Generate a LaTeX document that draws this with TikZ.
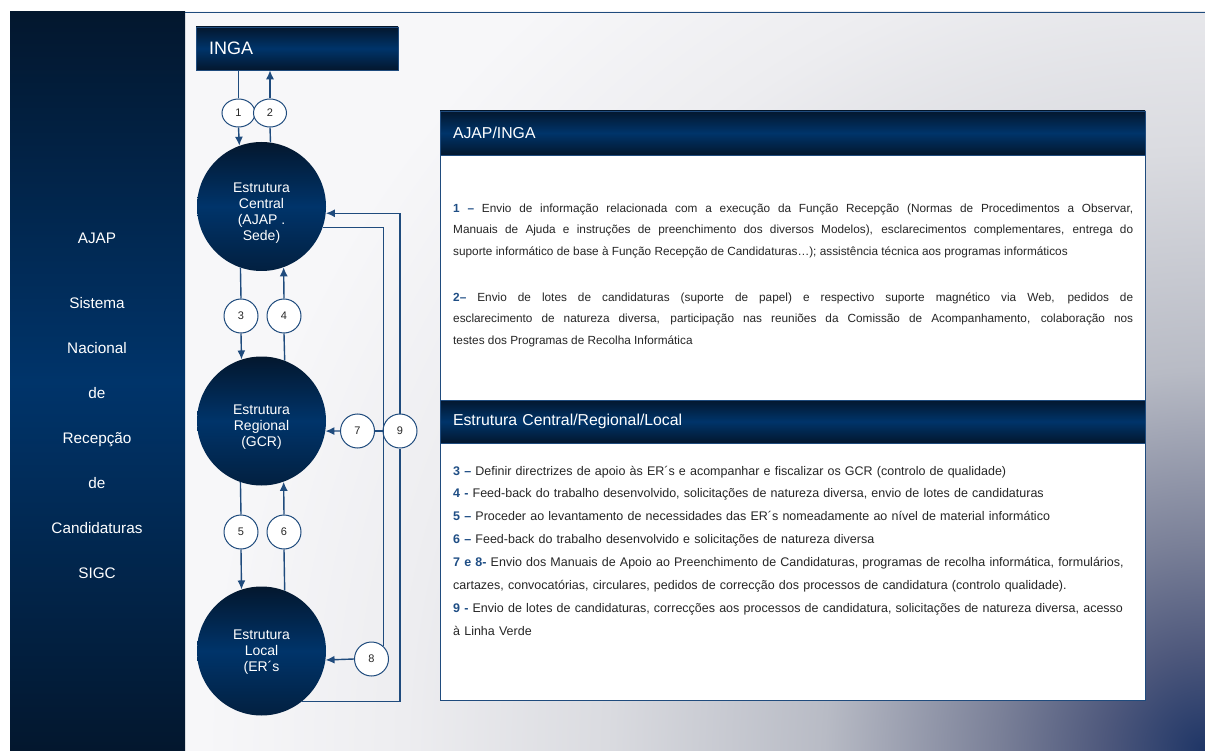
\documentclass[tikz,border=0pt]{standalone}
\usepackage{fontspec}
\setmainfont{Liberation Sans}
\usetikzlibrary{arrows.meta,shapes.geometric}

\definecolor{navydark}{HTML}{03172E}
\definecolor{navymid}{HTML}{00346A}
\definecolor{linkblue}{HTML}{1F4B7D}
\definecolor{numblue}{HTML}{1F4E85}
\definecolor{inktext}{HTML}{262626}
\definecolor{glowa}{HTML}{1E3566}
\definecolor{glowb}{HTML}{4E587C}
\definecolor{glowc}{HTML}{7A8098}
\definecolor{glowd}{HTML}{B8BBC5}
\definecolor{glowe}{HTML}{DADBE0}
\definecolor{glowf}{HTML}{EDEDF0}
\definecolor{glowg}{HTML}{F7F7F9}

\pgfdeclareradialshading{bgglow}{\pgfpoint{0bp}{0bp}}{color(0bp)=(glowa); color(1.8bp)=(glowb); color(3.7bp)=(glowc); color(6.8bp)=(glowd); color(10.7bp)=(glowe); color(14.3bp)=(glowf); color(17.9bp)=(glowg); color(50bp)=(glowg)}

\newcommand{\itemno}[1]{\textcolor{numblue}{\textbf{#1}}}

\begin{document}
\begin{tikzpicture}[x=1pt,y=-1pt,
    bigcirc/.style={circle,minimum size=129pt,inner sep=0pt,
        top color=navydark,bottom color=navydark!70!navymid,middle color=navymid},
    circtext/.style={text=white,align=center,font=\fontsize{14}{16}\selectfont},
    numcirc/.style={circle,draw=linkblue,line width=1pt,fill=white,minimum size=34pt,
        inner sep=0pt,text=inktext,font=\fontsize{11}{12}\selectfont},
    numoval/.style={numcirc,ellipse,minimum width=33pt,minimum height=28pt},
    darkbar/.style={rectangle,top color=navydark,bottom color=navydark,middle color=navymid,
        draw=linkblue,line width=0.6pt,inner xsep=13pt,align=left,text=white},
    sidetext/.style={anchor=base,text=white,font=\fontsize{15.3}{18}\selectfont},
    bodytext/.style={anchor=base west,inner sep=0pt,text width=680pt,text=inktext},
    link/.style={draw=linkblue,line width=1.4pt,-{Latex[length=9pt,width=8pt]}},
    wire/.style={draw=linkblue,line width=1.4pt}]

    % Draw background and side panel
    \useasboundingbox (0,0) rectangle (1205,751);
    \begin{scope}
        \clip (185,12) rectangle (1205,751);
        \shade[shading=bgglow] (1205,751) circle (1400);
    \end{scope}
    \shade[top color=navydark,bottom color=navydark,middle color=navymid] (10,12) rectangle (185,751);
    \draw[linkblue,line width=0.8pt] (185,12.5) -- (1205,12.5);

    \foreach \word/\ypos [count=\i] in {AJAP/243.5,Sistema/308.5,Nacional/353.5,de/398.5,Recepção/443.5,de/488.5,Candidaturas/533.5,SIGC/578.5}
        \node[sidetext] (side\i) at (97,\ypos) {\word};

    % Draw INGA and the three structures
    \node[darkbar,text width=176pt,minimum height=43pt,font=\fontsize{18}{20}\selectfont] (inga) at (297,48.5) {INGA};
    \node[bigcirc] (central) at (261.5,206.5) {};
    \node[bigcirc] (regional) at (261.5,421) {};
    \node[bigcirc] (local) at (261.5,651) {};
    \node[circtext] (centraltext) at (261.5,213) {Estrutura\\Central\\(AJAP .\\Sede)};
    \node[circtext] (regionaltext) at (261.5,427) {Estrutura\\Regional\\(GCR)};
    \node[circtext] (localtext) at (261.5,652) {Estrutura\\Local\\(ER´s};

    % Draw number marks
    \node[numoval] (n1) at (238.5,113) {1};
    \node[numoval] (n2) at (270,113) {2};
    \node[numcirc] (n3) at (241,316) {3};
    \node[numcirc] (n4) at (284,316) {4};
    \node[numcirc] (n5) at (241,532) {5};
    \node[numcirc] (n6) at (284,532) {6};
    \node[numcirc] (n7) at (357.5,431) {7};
    \node[numcirc] (n8) at (371.5,659) {8};
    \node[numcirc] (n9) at (400,431) {9};

    % Links between INGA and central
    \draw[wire] (inga.south -| n1) -- (n1.north);
    \draw[link] (n1.south) -- (central.110.89);
    \draw[wire] (central.82.43) -- (n2.south);
    \draw[link] (n2.north) -- (inga.south -| n2);

    % Links between central, regional and local
    \draw[wire] (central.251.47) -- (n3.north);
    \draw[link] (n3.south) -- (regional.108.53);
    \draw[wire] (regional.69.59) -- (n4.south);
    \draw[link] (n4.north) -- (central.290.41);
    \draw[wire] (regional.251.47) -- (n5.north);
    \draw[link] (n5.south) -- (local.108.53);
    \draw[wire] (local.69.59) -- (n6.south);
    \draw[link] (n6.north) -- (regional.290.41);

    % Links along the right side
    \draw[wire] (central.341) -| (n8.48);
    \draw[wire] (n7.east) -- (n7 -| n8.48);
    \draw[link] (n7.west) -- (regional.351.08);
    \draw[link] (n8.west) -- (local.352.88);
    \draw[wire] (local.309.2) -| (n9.south);
    \draw[link] (n9.north) |- (central.354.7);

    % Draw the text panel
    \draw[linkblue,line width=0.8pt,fill=white] (440,111) rectangle (1145,700);
    \node[darkbar,text width=679pt,minimum height=44pt,font=\fontsize{15.8}{18}\selectfont] (hdinga) at (792.5,133) {AJAP/INGA};
    \node[darkbar,text width=679pt,minimum height=43pt,font=\fontsize{15.8}{18}\selectfont] (hdlocal) at (792.5,421.5) {Estrutura Central/Regional/Local};

    \node[bodytext,align=justify,font=\fontsize{11.8}{21.5}\selectfont] (txtinga) at (453,212.5)
        {\itemno{1 –} Envio de informação relacionada com a execução da Função Recepção (Normas de Procedimentos a Observar,\linebreak
        Manuais de Ajuda e instruções de preenchimento dos diversos Modelos), esclarecimentos complementares, entrega do\linebreak
        suporte informático de base à Função Recepção de Candidaturas…); assistência técnica aos programas informáticos\par\vspace{24.5pt}
        \itemno{2–} Envio de lotes de candidaturas (suporte de papel) e respectivo suporte magnético via Web, pedidos de\linebreak
        esclarecimento de natureza diversa, participação nas reuniões da Comissão de Acompanhamento, colaboração nos\linebreak
        testes dos Programas de Recolha Informática};
    \node[bodytext,text width=695pt,align=left,font=\fontsize{12.5}{22.9}\selectfont] (txtlocal) at (453,475)
        {\itemno{3 –} Definir directrizes de apoio às ER´s e acompanhar e fiscalizar os GCR (controlo de qualidade)\\
        \itemno{4 -} Feed-back do trabalho desenvolvido, solicitações de natureza diversa, envio de lotes de candidaturas\\
        \itemno{5 –} Proceder ao levantamento de necessidades das ER´s nomeadamente ao nível de material informático\\
        \itemno{6 –} Feed-back do trabalho desenvolvido e solicitações de natureza diversa\\
        \itemno{7 e 8-} Envio dos Manuais de Apoio ao Preenchimento de Candidaturas, programas de recolha informática,  formulários,\\
        cartazes, convocatórias, circulares, pedidos de correcção dos processos de candidatura (controlo qualidade).\\
        \itemno{9 -} Envio de lotes de candidaturas, correcções aos processos de candidatura, solicitações de natureza diversa, acesso\\
        à Linha Verde};
\end{tikzpicture}
\end{document}
